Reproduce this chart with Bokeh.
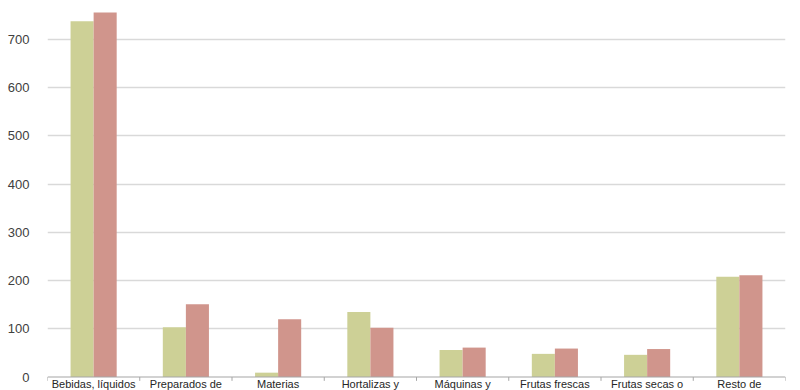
from bokeh.plotting import figure
from bokeh.models import ColumnDataSource, Range1d, FixedTicker, Span
from bokeh.embed import file_html
from bokeh.resources import INLINE
from bokeh.core.properties import value

categories = ["Bebidas, líquidos", "Preparados de", "Materias", "Hortalizas y",
              "Máquinas y", "Frutas frescas", "Frutas secas o", "Resto de"]
serie_a = [738, 103, 9, 135, 56, 48, 46, 208]
serie_b = [756, 151, 120, 102, 61, 59, 58, 211]
y_ticks = [0, 100, 200, 300, 400, 500, 600, 700]

color_a = "#CDD096"
color_b = "#D0958C"
axis_color = "#a6a6a6"

n = len(categories)
centers = [i + 0.5 for i in range(n)]
bounds = list(range(n + 1))
src = ColumnDataSource(dict(
    xa=[c - 0.125 for c in centers],
    xb=[c + 0.125 for c in centers],
    a=serie_a, b=serie_b,
))

p = figure(width=800, height=390, output_backend="svg", toolbar_location=None,
           x_range=Range1d(0, n), y_range=Range1d(-28, 781),
           min_border_left=47, min_border_right=15, min_border_top=0, min_border_bottom=0)
p.outline_line_color = None
p.background_fill_color = "white"
p.xaxis.visible = False

p.vbar(x="xa", top="a", bottom=0, width=0.25, source=src, fill_color=color_a, line_color=None)
p.vbar(x="xb", top="b", bottom=0, width=0.25, source=src, fill_color=color_b, line_color=None)

p.xgrid.grid_line_color = None
p.ygrid.grid_line_color = "#d9d9d9"
p.ygrid.grid_line_width = 1.5
p.ygrid.ticker = FixedTicker(ticks=y_ticks[1:])

p.yaxis.ticker = FixedTicker(ticks=y_ticks)
p.yaxis.axis_line_color = None
p.yaxis.major_tick_line_color = None
p.yaxis.minor_tick_line_color = None
p.yaxis.major_label_standoff = 12
p.yaxis.major_label_text_font = "Liberation Sans"
p.yaxis.major_label_text_font_size = "13px"
p.yaxis.major_label_text_color = "#404040"

# category axis drawn at zero
p.add_layout(Span(location=0, dimension="width", line_color=axis_color, line_width=1.2))
p.segment(x0=bounds, y0=[0] * len(bounds), x1=bounds, y1=[-8] * len(bounds),
          line_color=axis_color, line_width=1)
p.text(x=centers, y=[0] * n, text=categories, y_offset=1,
       text_align="center", text_baseline="top",
       text_font=value("Liberation Sans"), text_font_size="11px", text_color="#262626")

open("out.html", "w").write(file_html(p, INLINE))
